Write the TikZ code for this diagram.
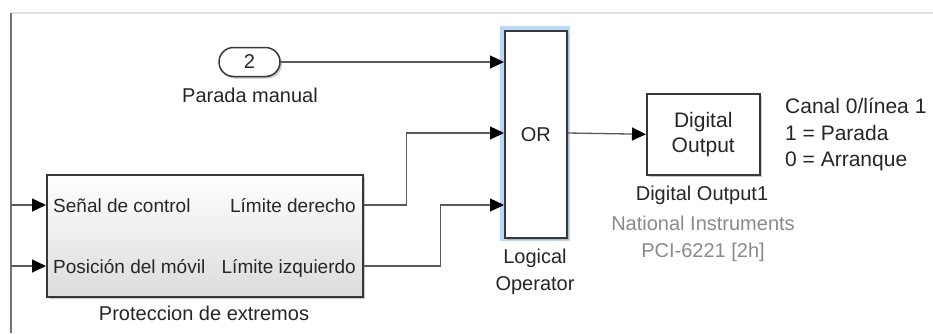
\documentclass[tikz,border=0pt]{standalone}
\usepackage{fontspec}
\setmainfont{Liberation Sans}
\usetikzlibrary{arrows.meta,shadows,calc}
\definecolor{txt}{HTML}{262626}
\definecolor{wirec}{HTML}{5A5A5A}
\definecolor{edge}{HTML}{383838}
\definecolor{selblue}{HTML}{B9D8F5}
\definecolor{nigray}{HTML}{8A8A8A}
\begin{document}
\begin{tikzpicture}[x=1pt,y=-1pt,
  every node/.style={text=txt, font=\fontsize{20}{24}\selectfont},
  wire/.style={draw=wirec, line width=1.3pt},
  arr/.style={wire, -{Triangle[length=14pt,width=13pt,color=black]}},
  blk/.style={draw=edge, line width=1.5pt, fill=white,
     drop shadow={shadow xshift=2pt, shadow yshift=-2pt, fill=black!35, opacity=0.6}},
  lbl/.style={inner sep=0pt},
  portlbl/.style={inner sep=0pt, font=\fontsize{19}{22}\selectfont},
  note/.style={inner sep=0pt, anchor=base west, font=\fontsize{21}{24}\selectfont}]
\useasboundingbox (0,0) rectangle (933,333);
\fill[white] (0,0) rectangle (933,333);
% frame
\draw[black!12, line width=2pt] (11,13) -- (933,13);
\draw[black!55, line width=1.5pt] (11,13) -- (11,333);

% inport
\node[blk, rounded corners=14.5pt, minimum width=61pt, minimum height=29pt, inner sep=0pt] (inp) at (249.5,62) {2};
\node[lbl, anchor=base] (inplbl) at (250,102) {Parada manual};

% protection subsystem
\node[blk, top color=white, bottom color=black!14, minimum width=316pt, minimum height=122pt, anchor=north west, inner sep=0pt] (prot) at (46,174) {};
\coordinate (pi1) at ($(prot.north west)+(0,31)$);
\coordinate (pi2) at ($(prot.north west)+(0,92)$);
\coordinate (po1) at ($(prot.north east)+(0,31)$);
\coordinate (po2) at ($(prot.north east)+(0,92)$);
\node[portlbl, anchor=base west] (l1) at (53,212) {Señal de control};
\node[portlbl, anchor=base west] (l2) at (53,273) {Posición del móvil};
\node[portlbl, anchor=base east] (r1) at (356,212) {Límite derecho};
\node[portlbl, anchor=base east] (r2) at (356,273) {Límite izquierdo};
\node[lbl, anchor=base] (protlbl) at (204,320) {Proteccion de extremos};
\coordinate (src1) at (11,205);
\coordinate (src2) at (11,266);

% OR block
\fill[selblue] (500,26) rectangle (570,241);
\node[blk, minimum width=62pt, minimum height=207pt, anchor=north west, inner sep=0pt] (or) at (504,30) {OR};
\coordinate (oi1) at (504,62);
\coordinate (oi2) at (504,133);
\coordinate (oi3) at (504,205);
\node[lbl, anchor=base] (orl1) at (535,263) {Logical};
\node[lbl, anchor=base] (orl2) at (535,290) {Operator};

% digital output
\node[blk, minimum width=113pt, minimum height=81pt, anchor=north west, inner sep=0pt] (dout) at (646,93) {};
\node[lbl, align=center, font=\fontsize{21}{25}\selectfont] (douttxt) at (dout.center) {Digital\\Output};
\node[lbl, anchor=base] (doutl) at (702,200) {Digital Output1};
\node[lbl, anchor=base, text=nigray] (ni1) at (703,230) {National Instruments};
\node[lbl, anchor=base, text=nigray] (ni2) at (703,257) {PCI-6221 [2h]};
\node[note] (n1) at (785,113) {Canal 0/línea 1};
\node[note] (n2) at (785,140) {1 = Parada};
\node[note] (n3) at (785,166) {0 = Arranque};

% connectors
\draw[arr] (src1) -- (pi1);
\draw[arr] (src2) -- (pi2);
\draw[arr] (inp.east) -- (oi1);
\draw[arr] (po1) -- ++(43,0) |- (oi2);
\draw[arr] (po2) -- ++(77,0) |- (oi3);
\draw[arr] (or.east |- oi2) -- (dout.west);
\end{tikzpicture}
\end{document}
